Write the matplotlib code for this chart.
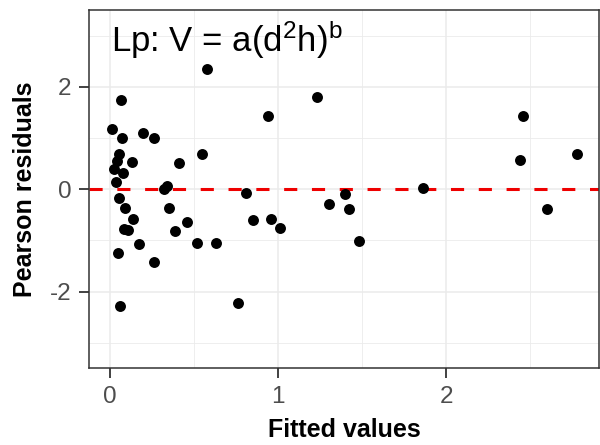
import matplotlib
matplotlib.use("Agg")
import matplotlib.pyplot as plt
from matplotlib.ticker import MultipleLocator

# fitted values and Pearson residuals
fitted = [0.575, 0.064, 0.94, 0.01, 0.073, 0.195, 0.26, 0.055, 0.13, 0.41,
          0.55, 0.04, 0.026, 0.08, 0.036, 0.32, 0.34, 0.81, 0.055, 0.09,
          0.14, 0.085, 0.11, 0.17, 0.05, 0.26, 0.06, 0.35, 0.39, 0.46,
          0.52, 0.63, 0.76, 0.85, 0.96, 1.01, 1.234, 2.46, 2.44, 2.78,
          1.86, 1.40, 1.305, 1.42, 1.48, 2.60]
resid = [2.34, 1.74, 1.43, 1.17, 1.0, 1.1, 1.0, 0.68, 0.53, 0.51,
         0.68, 0.55, 0.40, 0.31, 0.14, 0.0, 0.06, -0.07, -0.17, -0.36,
         -0.59, -0.77, -0.80, -1.07, -1.24, -1.42, -2.29, -0.36, -0.82, -0.64,
         -1.06, -1.06, -2.23, -0.61, -0.59, -0.75, 1.81, 1.43, 0.57, 0.68,
         0.03, -0.10, -0.29, -0.38, -1.02, -0.38]

title = "Lp: V = a(d$^{2}$h)$^{\\mathrm{b}}$"

plt.rcParams["font.family"] = ["Liberation Sans", "DejaVu Sans"]
plt.rcParams["mathtext.fontset"] = "custom"
plt.rcParams["mathtext.rm"] = "Liberation Sans"
plt.rcParams["mathtext.it"] = "Liberation Sans"

fig = plt.figure(figsize=(6.0, 4.45), dpi=100)
ax = fig.add_axes([0.1488, 0.1724, 0.8495, 0.8051])

ax.scatter(fitted, resid, s=62, color="black", zorder=3, linewidths=0)
ax.axhline(0, color="#EE0000", lw=2.2, dashes=(4.3, 4.8), zorder=2)

ax.set_xlim(-0.123, 2.91)
ax.set_ylim(-3.5, 3.5)
ax.xaxis.set_major_locator(MultipleLocator(1))
ax.xaxis.set_minor_locator(MultipleLocator(0.5))
ax.yaxis.set_major_locator(MultipleLocator(2))
ax.yaxis.set_minor_locator(MultipleLocator(1))
ax.set_yticks([-2, 0, 2], ["-2", "0", "2"])

ax.grid(which="major", color="#EBEBEB", lw=1.1, zorder=0)
ax.grid(which="minor", color="#EBEBEB", lw=0.6, zorder=0)
ax.set_axisbelow(True)
for sp in ax.spines.values():
    sp.set_color("#333333")
    sp.set_linewidth(1.1)
ax.tick_params(which="major", length=7, width=1.3, color="#333333",
               labelsize=17.5, labelcolor="#4D4D4D", pad=6)
ax.tick_params(which="minor", length=0)

ax.set_xlabel("Fitted values", fontsize=18, fontweight="bold", labelpad=7)
ax.set_ylabel("Pearson residuals", fontsize=18, fontweight="bold", labelpad=9)

ax.text(0.005, 2.68, title, fontsize=25, va="baseline", ha="left")

fig.savefig("out.png", dpi=100)
